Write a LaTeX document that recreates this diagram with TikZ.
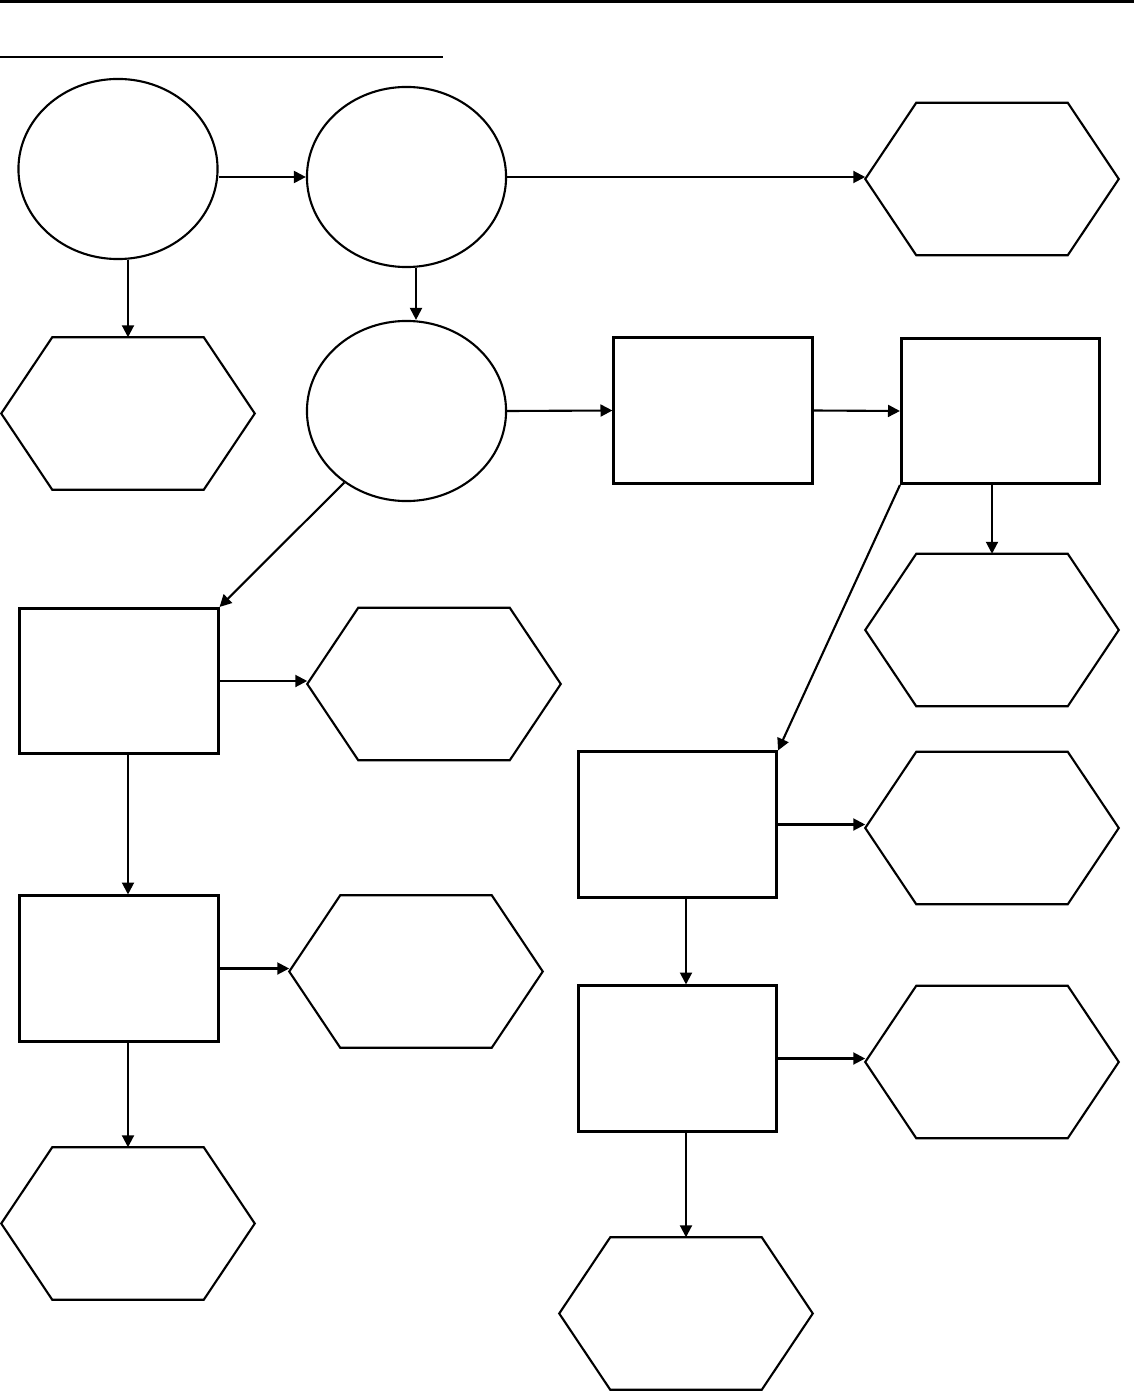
\documentclass[tikz,border=0pt]{standalone}
\usepackage{tikz}
\usetikzlibrary{positioning,arrows.meta,shapes.geometric}

\begin{document}
\begin{tikzpicture}[x=0.01cm, y=-0.01cm,
    elipse/.style={ellipse, draw, line width=0.6pt, minimum width=1.99cm,
        minimum height=1.8cm, inner sep=0pt},
    caja/.style={rectangle, draw, line width=0.85pt, minimum width=1.98cm,
        minimum height=1.45cm, inner sep=0pt},
    hexagono/.style={rectangle, minimum width=2.52cm, minimum height=1.51cm, inner sep=0pt},
    borde/.style={line width=0.6pt, line join=miter},
    flecha/.style={-{Triangle[length=3.4pt, width=3.4pt]}, line width=0.6pt}
  ]
  \useasboundingbox (0,0) rectangle (1134,1391);

  % cabecera
  \draw[line width=0.9pt] (0,1.5) -- (1134,1.5);
  \draw[line width=0.6pt] (0,57) -- (443,57);

  \node[elipse] (circA) at (118,169) {};
  \node[elipse] (circB) at (406.5,177) {};
  \node[elipse] (circC) at (406.5,411) {};

  \node[caja] (caja1) at (713,410.5) {};
  \node[caja] (caja2) at (1000.5,411) {};
  \node[caja] (caja3) at (119,681) {};
  \node[caja] (caja4) at (677.5,824.5) {};
  \node[caja] (caja5) at (119,968.5) {};
  \node[caja] (caja6) at (677.5,1058.5) {};

  \node[hexagono] (hexSup) at (992,179) {};
  \node[hexagono] (hex1) at (128,413.5) {};
  \node[hexagono] (hex2) at (992,630) {};
  \node[hexagono] (hex3) at (434,684) {};
  \node[hexagono] (hex4) at (992,828) {};
  \node[hexagono] (hex5) at (416,971.5) {};
  \node[hexagono] (hex6) at (992,1062) {};
  \node[hexagono] (hex7) at (128,1223.5) {};
  \node[hexagono] (hex8) at (686,1313.5) {};

  \foreach \h in {hexSup,hex1,hex2,hex3,hex4,hex5,hex6,hex7,hex8}
    \draw[borde] (\h.west) -- ([xshift=0.51cm]\h.north west) -- ([xshift=-0.51cm]\h.north east)
      -- (\h.east) -- ([xshift=-0.51cm]\h.south east) -- ([xshift=0.51cm]\h.south west) -- cycle;

  % conexiones
  \draw[flecha] (circA.east |- circB.west) -- (circB.west);
  \draw[flecha] (circA.south -| hex1.north) -- (hex1.north);
  \draw[flecha] (circB.east) -- (circB.east -| hexSup.west);
  \draw[flecha] ([xshift=0.095cm]circB.south) -- ([xshift=0.095cm]circC.north);
  \draw[flecha] (circC.east) -- (caja1.west);
  \draw[flecha] (caja1.east) -- (caja2.west);
  \draw[flecha] (circC.229) -- (caja3.north east);
  \draw[flecha] (caja2.south west) -- (caja4.north east);
  \draw[flecha] (caja2.south -| hex2.north) -- (hex2.north);
  \draw[flecha] (caja3.east) -- (caja3.east -| hex3.west);
  \draw[flecha] (caja3.south -| hex7.north) -- (caja5.north -| hex7.north);
  \draw[flecha] (caja4.east) -- (caja4.east -| hex4.west);
  \draw[flecha] (caja4.south -| hex8.north) -- (caja6.north -| hex8.north);
  \draw[flecha] (caja5.east) -- (caja5.east -| hex5.west);
  \draw[flecha] (caja5.south -| hex7.north) -- (hex7.north);
  \draw[flecha] (caja6.east) -- (caja6.east -| hex6.west);
  \draw[flecha] (caja6.south -| hex8.north) -- (hex8.north);
\end{tikzpicture}
\end{document}
